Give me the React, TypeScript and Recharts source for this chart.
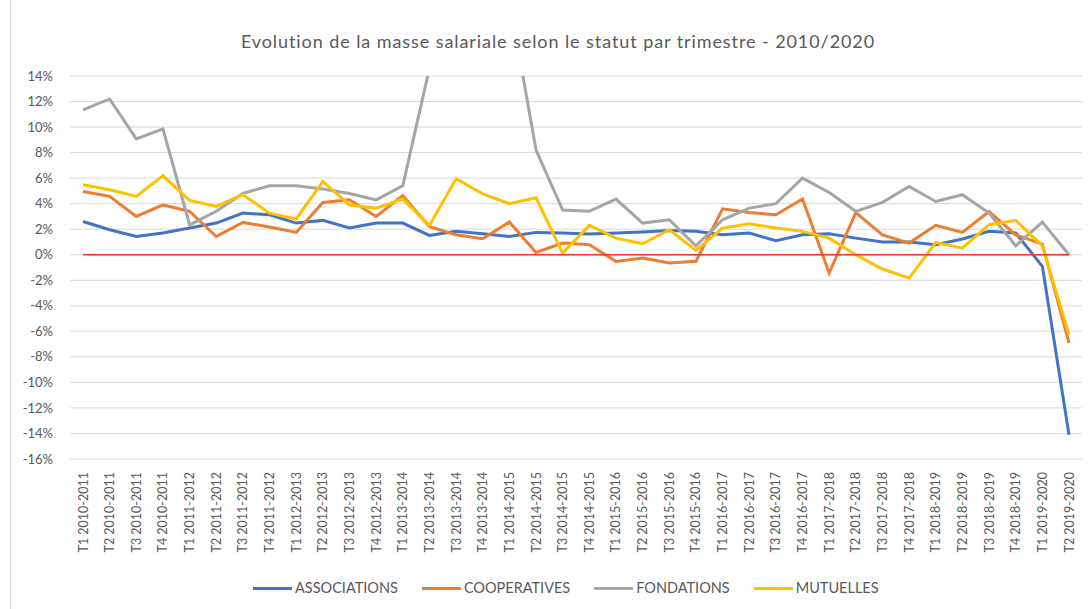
import React from 'react';
import { LineChart, Line, XAxis, YAxis, CartesianGrid, ReferenceLine } from 'recharts';

const categories = [
  'T1 2010-2011', 'T2 2010-2011', 'T3 2010-2011', 'T4 2010-2011',
  'T1 2011-2012', 'T2 2011-2012', 'T3 2011-2012', 'T4 2011-2012',
  'T1 2012-2013', 'T2 2012-2013', 'T3 2012-2013', 'T4 2012-2013',
  'T1 2013-2014', 'T2 2013-2014', 'T3 2013-2014', 'T4 2013-2014',
  'T1 2014-2015', 'T2 2014-2015', 'T3 2014-2015', 'T4 2014-2015',
  'T1 2015-2016', 'T2 2015-2016', 'T3 2015-2016', 'T4 2015-2016',
  'T1 2016-2017', 'T2 2016-2017', 'T3 2016-2017', 'T4 2016-2017',
  'T1 2017-2018', 'T2 2017-2018', 'T3 2017-2018', 'T4 2017-2018',
  'T1 2018-2019', 'T2 2018-2019', 'T3 2018-2019', 'T4 2018-2019',
  'T1 2019-2020', 'T2 2019-2020',
];

const associations = [
  2.6, 1.96, 1.43, 1.7, 2.09, 2.48, 3.26, 3.13, 2.48, 2.69, 2.09, 2.48,
  2.48, 1.51, 1.83, 1.64, 1.43, 1.75, 1.7, 1.62, 1.7, 1.78, 1.9, 1.83,
  1.56, 1.7, 1.1, 1.56, 1.64, 1.3, 0.99, 1.0, 0.78, 1.23, 1.83, 1.7,
  -0.91, -14.1,
];

const cooperatives = [
  4.96, 4.57, 3.0, 3.9, 3.4, 1.43, 2.53, 2.17, 1.75, 4.1, 4.3, 3.0,
  4.64, 2.2, 1.56, 1.25, 2.56, 0.18, 0.91, 0.78, -0.52, -0.26, -0.65, -0.52,
  3.6, 3.3, 3.13, 4.36, -1.43, 3.3, 1.56, 0.91, 2.3, 1.75, 3.39, 1.56,
  0.83, -6.91,
];

const fondations = [
  11.35, 12.2, 9.08, 9.86, 2.35, 3.4, 4.8, 5.4, 5.4, 5.15, 4.8, 4.3,
  5.4, 14.6, 22, 22, 20, 8.2, 3.5, 3.4, 4.36, 2.48, 2.74, 0.7,
  2.74, 3.65, 4.0, 6.0, 4.88, 3.4, 4.1, 5.35, 4.17, 4.7, 3.26, 0.7,
  2.56, 0,
];

const mutuelles = [
  5.48, 5.09, 4.57, 6.18, 4.25, 3.78, 4.7, 3.26, 2.8, 5.74, 3.9, 3.65,
  4.36, 2.3, 5.95, 4.77, 4.0, 4.46, 0.13, 2.3, 1.3, 0.86, 1.96, 0.34,
  2.09, 2.43, 2.09, 1.83, 1.3, 0.0, -1.12, -1.83, 0.96, 0.52, 2.35, 2.69,
  0.7, -6.26,
];

const yTicks = [-16, -14, -12, -10, -8, -6, -4, -2, 0, 2, 4, 6, 8, 10, 12, 14];

const seriesNames = ['ASSOCIATIONS', 'COOPERATIVES', 'FONDATIONS', 'MUTUELLES'];
const seriesKeys = ['associations', 'cooperatives', 'fondations', 'mutuelles'];
const seriesColors = ['#4472C4', '#ED7D31', '#A5A5A5', '#FFC000'];

const title = 'Evolution de la masse salariale selon le statut par trimestre - 2010/2020';

const data = categories.map((cat, i) => ({
  cat,
  associations: associations[i],
  cooperatives: cooperatives[i],
  fondations: fondations[i],
  mutuelles: mutuelles[i],
}));

const FONT = 'Lato, "Liberation Sans", sans-serif';
const TEXT = '#595959';

const XTick = (props: any) => {
  const { x, y, payload } = props;
  return (
    <text
      x={x}
      y={y}
      transform={`rotate(-90, ${x}, ${y})`}
      textAnchor="end"
      dy="0.36em"
      fill={TEXT}
      fontSize={12.5}
      fontFamily={FONT}
    >
      {payload.value}
    </text>
  );
};

export default function App() {
  return (
    <div
      style={{
        position: 'absolute',
        left: 0,
        top: 0,
        width: 1090,
        height: 609,
        background: '#fff',
        fontFamily: FONT,
        overflow: 'hidden',
      }}
    >
      <div style={{ position: 'absolute', left: 10, top: 0, width: 1, height: 609, background: '#d9d9d9' }} />
      <div
        style={{
          position: 'absolute',
          left: 0,
          width: 1116,
          top: 29,
          textAlign: 'center',
          fontSize: 18,
          letterSpacing: '0.92px',
          color: TEXT,
          lineHeight: '24px',
        }}
      >
        {title}
      </div>
      <div style={{ position: 'absolute', left: 0, top: 0 }}>
        <LineChart
          width={1090}
          height={609}
          data={data}
          margin={{ top: 76, right: 8, left: 10, bottom: 40 }}
        >
          <CartesianGrid vertical={false} stroke="#d9d9d9" strokeWidth={1} />
          <XAxis
            dataKey="cat"
            interval={0}
            tick={<XTick />}
            tickLine={false}
            axisLine={false}
            height={110}
            tickMargin={7}
            padding={{ left: 13, right: 13 }}
          />
          <YAxis
            width={60}
            domain={[-16, 14]}
            ticks={yTicks}
            allowDataOverflow
            tickLine={false}
            axisLine={false}
            tickMargin={11}
            tickFormatter={(v: number) => `${v}%`}
            tick={{ fill: TEXT, fontSize: 13, fontFamily: FONT }}
          />
          {seriesKeys.map((k, i) => (
            <Line
              key={k}
              type="linear"
              dataKey={k}
              name={seriesNames[i]}
              stroke={seriesColors[i]}
              strokeWidth={3}
              dot={false}
              activeDot={false}
              isAnimationActive={false}
            />
          ))}
          <ReferenceLine
            segment={[
              { x: categories[0], y: 0 },
              { x: categories[categories.length - 1], y: 0 },
            ]}
            stroke="#FF3333"
            strokeWidth={1.5}
            ifOverflow="visible"
          />
        </LineChart>
      </div>
      <div
        style={{
          position: 'absolute',
          top: 578,
          left: 253,
          display: 'flex',
          fontSize: 14.5,
          color: TEXT,
        }}
      >
        {seriesNames.map((n, i) => (
          <div key={n} style={{ display: 'flex', alignItems: 'center', marginRight: 24 }}>
            <div style={{ width: 39, height: 3, background: seriesColors[i], marginRight: 3 }} />
            <span style={{ lineHeight: '20px' }}>{n}</span>
          </div>
        ))}
      </div>
    </div>
  );
}
